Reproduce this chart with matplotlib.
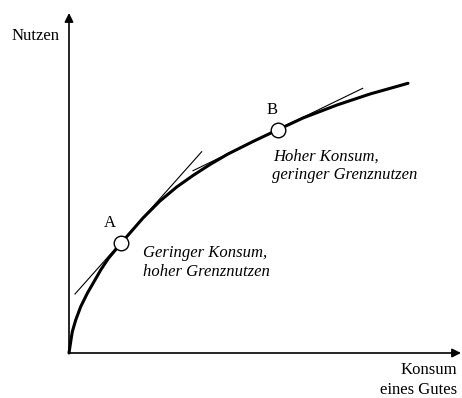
"""
Nutzenfunktion mit abnehmendem Grenznutzen (Punkte A und B mit Tangenten).
"""

import matplotlib
matplotlib.use('Agg')
import matplotlib.pyplot as plt

# Nutzenkurve (x = Konsum, y = Nutzen)
curve_x = [0, 1.7, 3.3, 6.7, 11.7, 18.3, 25, 31.7, 39.3, 52, 74, 91, 107.7,
           124, 141, 159, 184, 209.3, 234, 268, 301, 339]
curve_y = [0, 11.3, 21.3, 33, 46.3, 59.7, 71.3, 83, 94.5, 109.7, 135, 152, 166,
           177.5, 188.5, 199, 211.5, 223.5, 235, 248, 259, 269.7]

# Punkte A und B
point_names = ['A', 'B']
point_x = [52, 209.3]
point_y = [109.7, 223.5]

# Tangenten (Anfang, Ende)
tangent_a_x = [6, 132.7]
tangent_a_y = [59, 201.3]
tangent_b_x = [124, 293.7]
tangent_b_y = [182.3, 264.7]

x_max = 392
y_max = 340

serif = ['Liberation Serif', 'DejaVu Serif']


def main():
    fig = plt.figure(figsize=(4.62, 3.98), dpi=100)
    ax = fig.add_axes([0, 0, 1, 1])
    ax.set_xlim(-69, 393)
    ax.set_ylim(-45, 353)
    ax.axis('off')

    # Achsen mit Pfeilen
    arrow = dict(arrowstyle='-|>', mutation_scale=13, lw=1.2, color='black',
                 shrinkA=0, shrinkB=0)
    ax.annotate('', xy=(0, y_max), xytext=(0, 0), arrowprops=arrow)
    ax.annotate('', xy=(x_max, 0), xytext=(0, 0), arrowprops=arrow)

    # Tangenten
    ax.plot(tangent_a_x, tangent_a_y, color='black', lw=0.8)
    ax.plot(tangent_b_x, tangent_b_y, color='black', lw=0.8)

    # Kurve
    ax.plot(curve_x, curve_y, color='black', lw=2.2,
            solid_capstyle='round', solid_joinstyle='round')

    # Punkte
    ax.plot(point_x, point_y, 'o', ms=10.5, mfc='white', mec='black', mew=1.0)

    # Beschriftungen
    ax.text(-9, 317, 'Nutzen', ha='right', va='center', fontsize=12, family=serif)
    ax.text(388, -17, 'Konsum', ha='right', va='center', fontsize=12, family=serif)
    ax.text(388, -37, 'eines Gutes', ha='right', va='center', fontsize=12, family=serif)

    ax.text(41, 129.7, point_names[0], ha='center', va='center', fontsize=12, family=serif)
    ax.text(202.7, 243, point_names[1], ha='center', va='center', fontsize=12, family=serif)

    ax.text(74, 99.7, 'Geringer Konsum,', ha='left', va='center', fontsize=12,
            style='italic', family=serif)
    ax.text(74, 81.3, 'hoher Grenznutzen', ha='left', va='center', fontsize=12,
            style='italic', family=serif)
    ax.text(204, 196, 'Hoher Konsum,', ha='left', va='center', fontsize=12,
            style='italic', family=serif)
    ax.text(203, 177.7, 'geringer Grenznutzen', ha='left', va='center', fontsize=12,
            style='italic', family=serif)

    fig.savefig('out.png', dpi=100)
    plt.close(fig)


if __name__ == "__main__":
    main()
